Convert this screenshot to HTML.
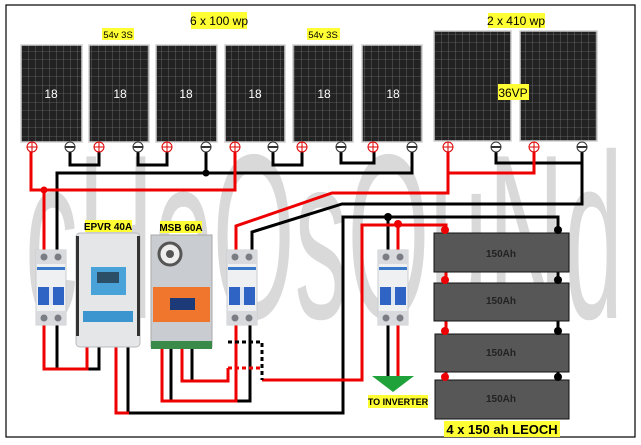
<!DOCTYPE html>
<html><head><meta charset="utf-8"><style>
html,body{margin:0;padding:0;background:#fff;width:641px;height:445px;overflow:hidden}
svg{display:block}
text{font-family:"Liberation Sans",sans-serif}
</style></head><body>
<svg width="641" height="445" viewBox="0 0 641 445" xmlns="http://www.w3.org/2000/svg">
<defs>
<pattern id="cells" width="7" height="8.5" patternUnits="userSpaceOnUse">
<rect width="7" height="8.5" fill="#222"/>
<path d="M0 0H7M0 0V8.5" stroke="#8a8a8a" stroke-width="0.6"/>
</pattern>
<g id="brk">
<rect x="0" y="0" width="30" height="75" fill="#eef0f2" stroke="#c9ccd0"/>
<rect x="0" y="0" width="30" height="14" fill="#d8dade"/>
<circle cx="8" cy="7" r="3.5" fill="#7a7e84"/><circle cx="22" cy="7" r="3.5" fill="#7a7e84"/>
<rect x="1" y="17" width="28" height="3" fill="#3a78c9"/>
<rect x="2" y="37" width="26" height="18" fill="#2f63c4"/>
<rect x="13" y="37" width="4" height="18" fill="#dfe6f3"/>
<rect x="0" y="61" width="30" height="14" fill="#d8dade"/>
<circle cx="8" cy="68" r="3.5" fill="#7a7e84"/><circle cx="22" cy="68" r="3.5" fill="#7a7e84"/>
</g>
</defs>

<!-- watermark -->
<text x="25" y="318" font-size="235" fill="#d9d9d9" textLength="598" lengthAdjust="spacingAndGlyphs">cHoOsOuNd</text>

<rect x="6" y="5" width="629" height="432" fill="none" stroke="#000" stroke-width="1.2"/>

<!-- labels -->
<rect x="191" y="12" width="56" height="17" fill="#ffff33"/><text x="219" y="25" font-size="12" text-anchor="middle">6 x 100 wp</text>
<rect x="102" y="28" width="32" height="12" fill="#ffff33"/><text x="118" y="38" font-size="9.5" text-anchor="middle">54v 3S</text>
<rect x="307" y="28" width="33" height="12" fill="#ffff33"/><text x="323" y="38" font-size="9.5" text-anchor="middle">54v 3S</text>
<rect x="488" y="13" width="57" height="15" fill="#ffff33"/><text x="516" y="25" font-size="12" text-anchor="middle">2 x 410 wp</text>

<!-- panels -->
<g stroke="#d0d0d0" stroke-width="1.5" fill="url(#cells)">
<rect x="21" y="45" width="61" height="97"/>
<rect x="89" y="45" width="60" height="97"/>
<rect x="156" y="45" width="61" height="97"/>
<rect x="225" y="45" width="60" height="97"/>
<rect x="293" y="45" width="60" height="97"/>
<rect x="362" y="45" width="60" height="97"/>
<rect x="434" y="31" width="77" height="110"/>
<rect x="520" y="31" width="77" height="110"/>
</g>
<g fill="#fff" font-size="12" text-anchor="middle">
<text x="51" y="98">18</text><text x="120" y="98">18</text><text x="186" y="98">18</text>
<text x="255" y="98">18</text><text x="324" y="98">18</text><text x="393" y="98">18</text>
</g>
<rect x="498" y="84" width="31" height="16" fill="#ffff33"/><text x="513" y="97" font-size="12" text-anchor="middle">36VP</text>

<!-- top wiring -->
<g fill="none" stroke-width="3" stroke-linejoin="miter">
<path d="M70 147V165H99V147M138 147V165H167V147M273 147V165H302V147M341 147V163H374V147" stroke="#000"/>
<path d="M57 250V173H412V147M206 147V173" stroke="#000"/>
<path d="M496 147V163H582V147M582 147V204H342L252 232V250" stroke="#000"/>
<path d="M44 250V190M31 147V190H235V147" stroke="#e00"/>
<path d="M448 147V193H332L236 226V250M448 173H534V147" stroke="#e00"/>
</g>
<circle cx="206" cy="173" r="3.5"/><circle cx="44" cy="190" r="3.5" fill="#e00"/>

<!-- terminals -->
<g stroke-width="1" fill="#fff">
<g stroke="#d00">
<circle cx="32" cy="147" r="5"/><circle cx="99" cy="147" r="5"/><circle cx="167" cy="147" r="5"/><circle cx="235" cy="147" r="5"/><circle cx="302" cy="147" r="5"/><circle cx="373" cy="147" r="5"/><circle cx="448" cy="147" r="5"/><circle cx="534" cy="147" r="5"/>
<path d="M27 147h10M32 142v10M94 147h10M99 142v10M162 147h10M167 142v10M230 147h10M235 142v10M297 147h10M302 142v10M368 147h10M373 142v10M443 147h10M448 142v10M529 147h10M534 142v10"/>
</g>
<g stroke="#333">
<circle cx="70" cy="147" r="5"/><circle cx="138" cy="147" r="5"/><circle cx="206" cy="147" r="5"/><circle cx="273" cy="147" r="5"/><circle cx="341" cy="147" r="5"/><circle cx="412" cy="147" r="5"/><circle cx="496" cy="147" r="5"/><circle cx="582" cy="147" r="5"/>
<path d="M65 147h10M133 147h10M201 147h10M268 147h10M336 147h10M407 147h10M491 147h10M577 147h10" stroke-width="2"/>
</g>
</g>

<!-- battery bus -->
<g fill="none" stroke-width="3">
<path d="M128 347V413H343V217H558V380M388 217V250" stroke="#000"/>
<path d="M116 347V413H129" stroke="#e00"/>
<path d="M262 380H362V225H446V380M398 225V250" stroke="#e00"/>
<path d="M57 325V369H99V347" stroke="#000"/>
<path d="M44 325V369H87V347" stroke="#e00"/>
<path d="M171 349V401H250V325" stroke="#000"/>
<path d="M162 349V401H236V325" stroke="#e00"/>
<path d="M192 349V381H228" stroke="#000"/>
<path d="M182 349V381H228V368" stroke="#e00"/>
<path d="M228 342H262V380" stroke="#000" stroke-dasharray="4 3"/>
<path d="M228 368H262" stroke="#e00" stroke-dasharray="4 3"/>
<path d="M388 325V376" stroke="#000"/>
<path d="M398 325V376" stroke="#e00"/>
</g>
<circle cx="388" cy="217" r="4"/><circle cx="398" cy="224" r="4" fill="#e00"/>

<!-- batteries -->
<g fill="#575757" stroke="#111" stroke-width="1">
<rect x="434" y="233" width="135" height="39"/>
<rect x="434" y="283" width="135" height="38"/>
<rect x="435" y="334" width="134" height="38"/>
<rect x="435" y="380" width="134" height="39"/>
</g>
<g font-size="10" font-weight="bold" fill="#222" text-anchor="middle">
<text x="501" y="257">150Ah</text><text x="501" y="304">150Ah</text><text x="501" y="356">150Ah</text><text x="501" y="402">150Ah</text>
</g>
<g fill="#e00"><circle cx="445" cy="230" r="4"/><circle cx="445" cy="280" r="4"/><circle cx="445" cy="331" r="4"/><circle cx="445" cy="377" r="4"/></g>
<g fill="#000"><circle cx="558" cy="230" r="4"/><circle cx="558" cy="280" r="4"/><circle cx="558" cy="331" r="4"/><circle cx="558" cy="377" r="4"/></g>
<rect x="444" y="421" width="116" height="16" fill="#ffff33"/>
<text x="502" y="434" font-size="13" font-weight="bold" text-anchor="middle">4 x 150 ah LEOCH</text>

<!-- inverter -->
<polygon points="372,376 414,376 393,392" fill="#1fa23a"/>
<rect x="368" y="395" width="60" height="13" fill="#ffff33"/>
<text x="398" y="405" font-size="9" font-weight="bold" text-anchor="middle">TO INVERTER</text>

<!-- breakers -->
<use href="#brk" x="36" y="250"/>
<use href="#brk" x="227" y="250"/>
<use href="#brk" x="378" y="250"/>

<!-- EPVR -->
<rect x="85" y="220" width="47" height="12" fill="#ffff33"/><text x="108" y="230" font-size="10" font-weight="bold" text-anchor="middle">EPVR 40A</text>
<rect x="76" y="233" width="64" height="114" rx="4" fill="#e4e6e8" stroke="#b8bbbf"/>
<rect x="76" y="236" width="3" height="100" fill="#333"/><rect x="137" y="236" width="3" height="100" fill="#333"/>
<rect x="91" y="267" width="35" height="28" fill="#4aa3d8"/>
<rect x="97" y="272" width="22" height="11" fill="#2b4f66"/>
<rect x="83" y="311" width="50" height="11" fill="#3d95d0"/>
<!-- MSB -->
<rect x="160" y="221" width="42" height="12" fill="#ffff33"/><text x="181" y="231" font-size="10" font-weight="bold" text-anchor="middle">MSB 60A</text>
<rect x="151" y="235" width="61" height="112" fill="#c9ccd0" stroke="#aaa"/>
<circle cx="170" cy="254" r="11" fill="#eee" stroke="#555" stroke-width="3"/>
<circle cx="170" cy="254" r="4" fill="#555"/>
<rect x="153" y="287" width="57" height="35" fill="#f0752d"/>
<rect x="170" y="298" width="25" height="12" fill="#1d3a78"/>
<rect x="151" y="341" width="61" height="8" fill="#3a8a4a"/>
</svg>
</body></html>
